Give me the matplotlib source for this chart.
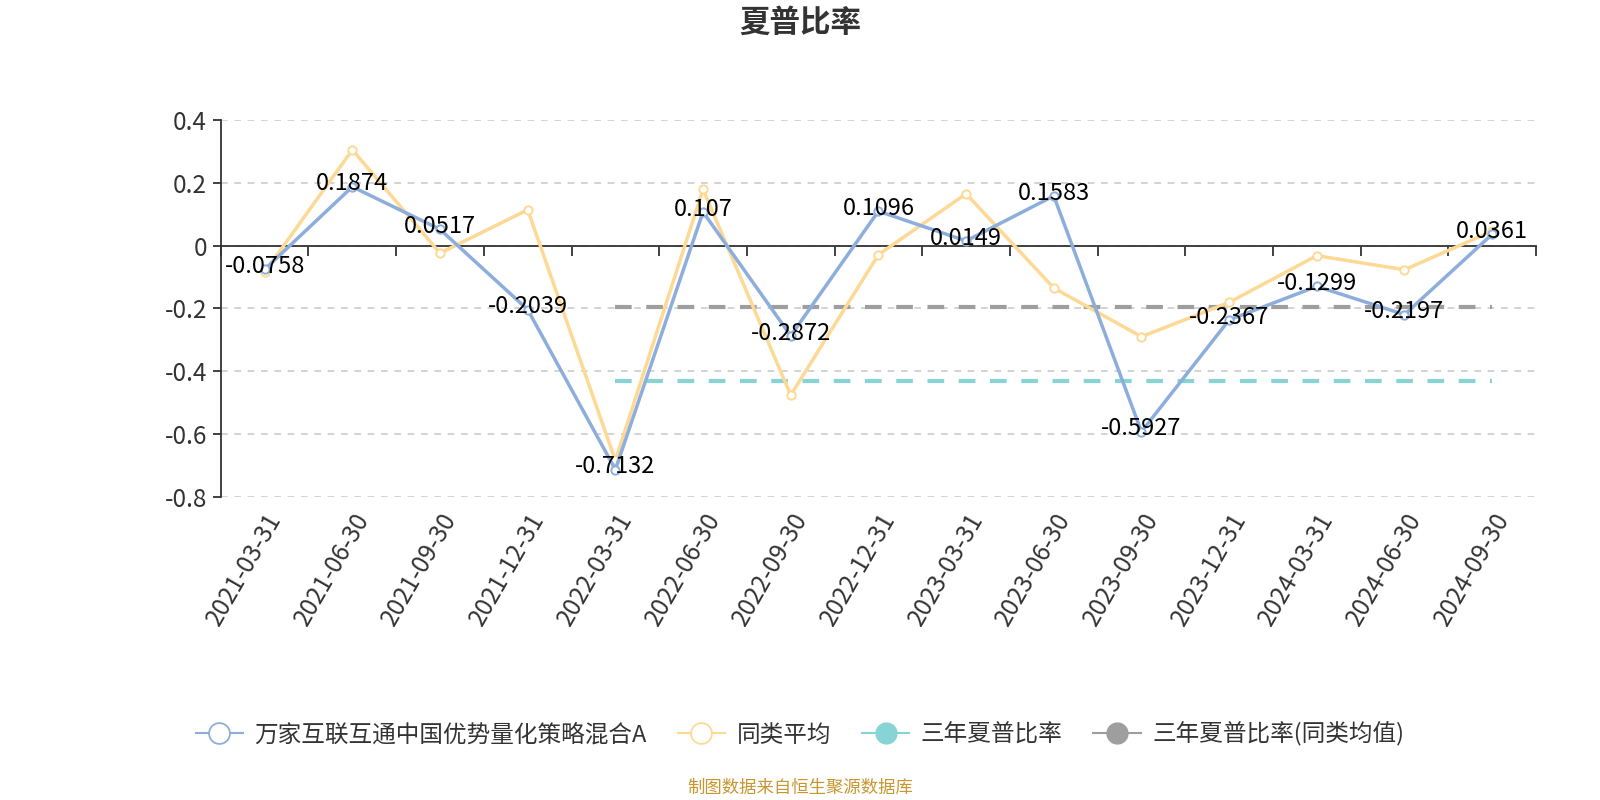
import matplotlib
matplotlib.use("Agg")
import matplotlib.pyplot as plt
from matplotlib.lines import Line2D
import numpy as np

plt.rcParams['font.family'] = ['Noto Sans CJK SC', 'DejaVu Sans']

# --- data ---
dates = ['2021-03-31', '2021-06-30', '2021-09-30', '2021-12-31', '2022-03-31',
         '2022-06-30', '2022-09-30', '2022-12-31', '2023-03-31', '2023-06-30',
         '2023-09-30', '2023-12-31', '2024-03-31', '2024-06-30', '2024-09-30']
fund = [-0.0758, 0.1874, 0.0517, -0.2039, -0.7132, 0.107, -0.2872, 0.1096,
        0.0149, 0.1583, -0.5927, -0.2367, -0.1299, -0.2197, 0.0361]
peer_avg = [-0.085, 0.305, -0.024, 0.114, -0.684, 0.179, -0.476, -0.029,
            0.165, -0.135, -0.290, -0.181, -0.032, -0.077, 0.046]
sharpe_3y = -0.432
sharpe_3y_peer = -0.195
ref_start = '2022-03-31'

fund_name = '万家互联互通中国优势量化策略混合A'
legend_labels = [fund_name, '同类平均', '三年夏普比率', '三年夏普比率(同类均值)']

BLUE = '#8DAEDC'
YELLOW = '#FDD995'
TEAL = '#86D4D6'
GRAY = '#9E9E9E'
TXT = '#333333'

fig = plt.figure(figsize=(16, 8), dpi=100)
ax = fig.add_axes([0.138, 0.379, 0.822, 0.471])

x = np.arange(len(dates))
i0 = dates.index(ref_start)

# three-year reference lines
ax.plot(x[i0:], [sharpe_3y] * (len(dates) - i0), color=TEAL, lw=3, ls=(0, (4, 3.5)), zorder=2)
ax.plot(x[i0:], [sharpe_3y_peer] * (len(dates) - i0), color=GRAY, lw=3, ls=(0, (4, 3.5)), zorder=2)

ax.plot(x, fund, color=BLUE, lw=2.5, marker='o', ms=6, mfc='white', mec=BLUE, mew=1.4, zorder=4)
ax.plot(x, peer_avg, color=YELLOW, lw=2.5, marker='o', ms=6, mfc='white', mec=YELLOW, mew=1.4, zorder=3)

for xi, v in zip(x, fund):
    ax.annotate(f'{v:g}', (xi, v), xytext=(0, 2), textcoords='offset points',
                ha='center', va='center', fontsize=17, color='black', zorder=5)

ax.set_xlim(-0.5, len(dates) - 0.5)
ax.set_ylim(-0.8, 0.4)
yt = [0.4, 0.2, 0, -0.2, -0.4, -0.6, -0.8]
ax.set_yticks(yt)
ax.set_yticklabels([f'{v:g}' for v in yt], fontsize=17.5, color=TXT)
ax.yaxis.grid(True, color='#CCCCCC', ls=(0, (4, 4)), lw=1.2)
ax.set_axisbelow(True)

for s in ['top', 'right']:
    ax.spines[s].set_visible(False)
ax.spines['left'].set_color(TXT)
ax.spines['left'].set_linewidth(1.3)
ax.spines['bottom'].set_position(('data', 0))
ax.spines['bottom'].set_color(TXT)
ax.spines['bottom'].set_linewidth(1.3)
ax.tick_params(axis='y', length=6, color=TXT, width=1.3, pad=4)

# ticks on zero line between categories, labels at bottom via secondary axis
ax.set_xticks(np.arange(-0.5, len(dates), 1.0))
ax.tick_params(axis='x', length=7, color=TXT, width=1.3, labelbottom=False)

sec = ax.secondary_xaxis(0.0)
sec.set_xticks(x)
sec.set_xticklabels(dates, rotation=60, ha='right', rotation_mode='anchor', fontsize=17.5, color=TXT)
sec.tick_params(length=0, pad=8)
sec.spines['bottom'].set_visible(False)

fig.text(0.5, 0.972, '夏普比率', ha='center', va='center', fontsize=22, fontweight='bold', color=TXT)

handles = [
    Line2D([0], [0], color=BLUE, lw=1.5, marker='o', ms=15, mfc='white', mec=BLUE, mew=1.3),
    Line2D([0], [0], color=YELLOW, lw=1.5, marker='o', ms=15, mfc='white', mec=YELLOW, mew=1.3),
    Line2D([0], [0], color=TEAL, lw=1.5, marker='o', ms=15, mfc=TEAL, mec=TEAL),
    Line2D([0], [0], color=GRAY, lw=1.5, marker='o', ms=15, mfc=GRAY, mec=GRAY),
]
fig.legend(handles, legend_labels, loc='center', bbox_to_anchor=(0.5, 0.082), ncol=4,
           frameon=False, fontsize=17, handlelength=2.0, handletextpad=0.5,
           columnspacing=1.3, labelcolor=TXT)

fig.text(0.5, 0.015, '制图数据来自恒生聚源数据库', ha='center', va='center', fontsize=12.5, color='#C8962E')

fig.savefig('out.png', dpi=100)
